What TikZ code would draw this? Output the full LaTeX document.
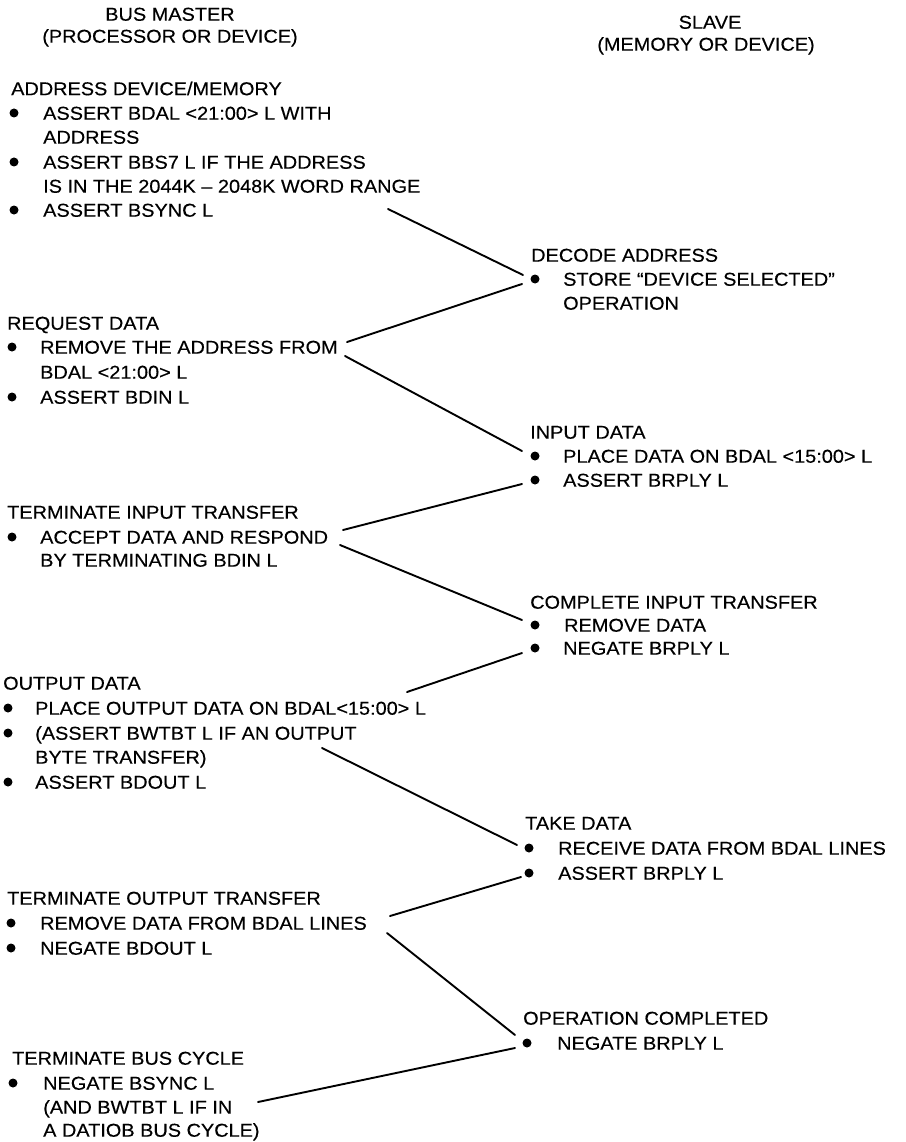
\documentclass[tikz,border=0pt]{standalone}
\usepackage{fontspec}
\setmainfont{Liberation Sans}[FakeStretch=1.07,FakeBold=0.3]
\newcommand\diagfont{\fontsize{18.6}{22}\selectfont}
\begin{document}
\begin{tikzpicture}[x=1pt,y=-1pt,
  txt/.style={anchor=base west,yshift=-6.7pt,inner sep=0pt,font=\diagfont},
  hdr/.style={anchor=base,yshift=-6.7pt,inner sep=0pt,font=\diagfont},
  dot/.style={circle,fill=black,draw=none,inner sep=0pt,minimum size=9pt},
  link/.style={line width=1.9pt,line cap=round}]
\useasboundingbox (0,0) rectangle (905,1142);

% headers
\node[hdr] (hm1) at (170,14) {BUS MASTER};
\node[hdr] (hm2) at (170,36) {(PROCESSOR OR DEVICE)};
\node[hdr] (hs1) at (710,22) {SLAVE};
\node[hdr] (hs2) at (706,44) {(MEMORY OR DEVICE)};

% A: address device/memory
\node[txt] (a0) at (11,88.5) {ADDRESS DEVICE/MEMORY};
\node[dot] (ad1) at (14,113) {};
\node[txt] (a1) at (43,113) {ASSERT BDAL <21:00> L WITH};
\node[txt] (a2) at (43,137) {ADDRESS};
\node[dot] (ad2) at (14,162) {};
\node[txt] (a3) at (43,162) {ASSERT BBS7 L IF THE ADDRESS};
\node[txt] (a4) at (43,186) {IS IN THE 2044K – 2048K WORD RANGE};
\node[dot] (ad3) at (14,210) {};
\node[txt] (a5) at (43,210) {ASSERT BSYNC L};

% B: decode address
\node[txt] (b0) at (531,255) {DECODE ADDRESS};
\node[dot] (bd1) at (535,279) {};
\node[txt] (b1) at (563,279) {STORE “DEVICE SELECTED”};
\node[txt] (b2) at (563,303) {OPERATION};

% C: request data
\node[txt] (c0) at (7,323) {REQUEST DATA};
\node[dot] (cd1) at (12,347) {};
\node[txt] (c1) at (40,347) {REMOVE THE ADDRESS FROM};
\node[txt] (c2) at (40,372) {BDAL <21:00> L};
\node[dot] (cd2) at (12,397) {};
\node[txt] (c3) at (40,397) {ASSERT BDIN L};

% D: input data
\node[txt] (d0) at (530,432) {INPUT DATA};
\node[dot] (dd1) at (535,456) {};
\node[txt] (d1) at (563,456) {PLACE DATA ON BDAL <15:00> L};
\node[dot] (dd2) at (535,480) {};
\node[txt] (d2) at (563,480) {ASSERT BRPLY L};

% E: terminate input transfer
\node[txt] (e0) at (7,512) {TERMINATE INPUT TRANSFER};
\node[dot] (ed1) at (12,537) {};
\node[txt] (e1) at (40,537) {ACCEPT DATA AND RESPOND};
\node[txt] (e2) at (40,560) {BY TERMINATING BDIN L};

% F: complete input transfer
\node[txt] (f0) at (530,602) {COMPLETE INPUT TRANSFER};
\node[dot] (fd1) at (535,625) {};
\node[txt] (f1) at (564,625) {REMOVE DATA};
\node[dot] (fd2) at (535,648) {};
\node[txt] (f2) at (563,648) {NEGATE BRPLY L};

% G: output data
\node[txt] (g0) at (3,683) {OUTPUT DATA};
\node[dot] (gd1) at (8,708) {};
\node[txt] (g1) at (35,708) {PLACE OUTPUT DATA ON BDAL<15:00> L};
\node[dot] (gd2) at (8,733) {};
\node[txt] (g2) at (35,733) {(ASSERT BWTBT L IF AN OUTPUT};
\node[txt] (g3) at (35,757) {BYTE TRANSFER)};
\node[dot] (gd3) at (8,782) {};
\node[txt] (g4) at (35,782) {ASSERT BDOUT L};

% H: take data
\node[txt] (h0) at (525,823) {TAKE DATA};
\node[dot] (hd1) at (529,848) {};
\node[txt] (h1) at (558,848) {RECEIVE DATA FROM BDAL LINES};
\node[dot] (hd2) at (529,873) {};
\node[txt] (h2) at (558,873) {ASSERT BRPLY L};

% I: terminate output transfer
\node[txt] (i0) at (7,898) {TERMINATE OUTPUT TRANSFER};
\node[dot] (id1) at (11,923) {};
\node[txt] (i1) at (40,923) {REMOVE DATA FROM BDAL LINES};
\node[dot] (id2) at (11,948) {};
\node[txt] (i2) at (40,948) {NEGATE BDOUT L};

% J: operation completed
\node[txt] (j0) at (523,1018) {OPERATION COMPLETED};
\node[dot] (jd1) at (527,1043) {};
\node[txt] (j1) at (557,1043) {NEGATE BRPLY L};

% K: terminate bus cycle
\node[txt] (k0) at (12,1058) {TERMINATE BUS CYCLE};
\node[dot] (kd1) at (13,1083) {};
\node[txt] (k1) at (43,1083) {NEGATE BSYNC L};
\node[txt] (k2) at (43,1107) {(AND BWTBT L IF IN};
\node[txt] (k3) at (43,1130) {A DATIOB BUS CYCLE)};

% connector end points
\coordinate (p1s) at (388,209);  \coordinate (p1e) at (523,275);
\coordinate (p2s) at (522,284);  \coordinate (p2e) at (347,342);
\coordinate (p3s) at (345,356);  \coordinate (p3e) at (522,451);
\coordinate (p4s) at (343,530);  \coordinate (p4e) at (522,484);
\coordinate (p5s) at (340,545);  \coordinate (p5e) at (522,620);
\coordinate (p6s) at (407,692);  \coordinate (p6e) at (522,653);
\coordinate (p7s) at (322,748);  \coordinate (p7e) at (517,845);
\coordinate (p8s) at (390,916);  \coordinate (p8e) at (521,877);
\coordinate (p9s) at (387,933);  \coordinate (p9e) at (515,1035);
\coordinate (p10s) at (258,1102); \coordinate (p10e) at (515,1048);

\draw[link] (p1s) -- (p1e);
\draw[link] (p2s) -- (p2e);
\draw[link] (p3s) -- (p3e);
\draw[link] (p4s) -- (p4e);
\draw[link] (p5s) -- (p5e);
\draw[link] (p6s) -- (p6e);
\draw[link] (p7s) -- (p7e);
\draw[link] (p8s) -- (p8e);
\draw[link] (p9s) -- (p9e);
\draw[link] (p10s) -- (p10e);
\end{tikzpicture}
\end{document}
